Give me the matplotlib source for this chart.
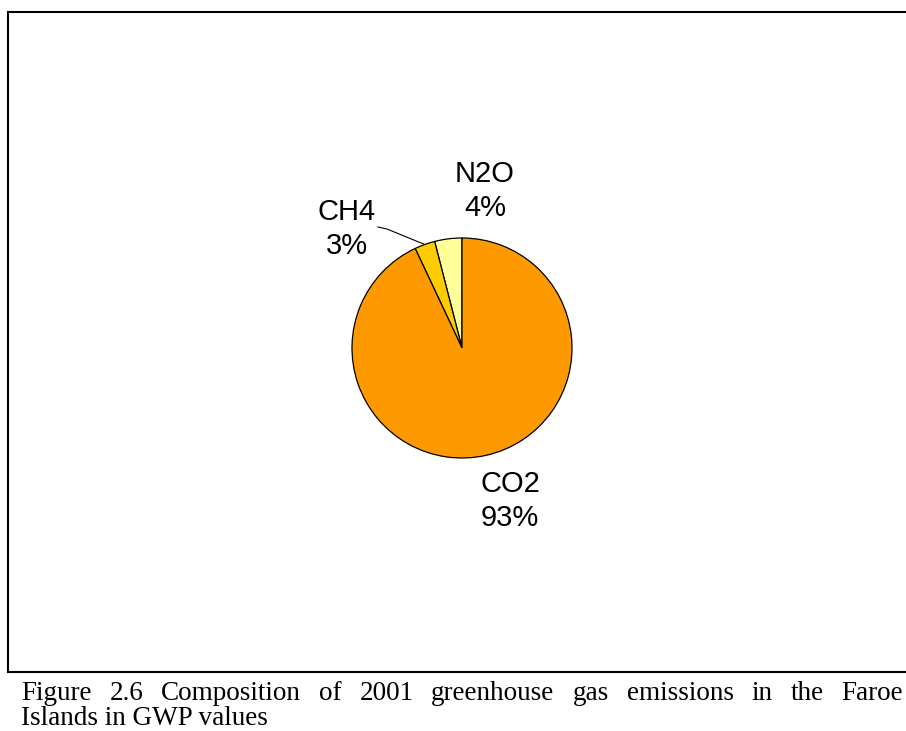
import matplotlib
matplotlib.use('Agg')
import matplotlib.pyplot as plt
from matplotlib.lines import Line2D
import numpy as np

# data (counterclockwise from 12 o'clock)
gases = ['N2O', 'CH4', 'CO2']
shares = [4, 3, 93]
colors = ['#FFFF99', '#FFCC00', '#FF9900']

caption_lines = ['Figure 2.6 Composition of 2001 greenhouse gas emissions in the Faroe',
                 'Islands in GWP values']

W, H = 906, 731
fig = plt.figure(figsize=(W / 100, H / 100), dpi=100)
ax = fig.add_axes([0, 0, 1, 1])

# pie, center/radius in pixel units
cx, cy, r = 462, H - 348, 110
wedges, _ = ax.pie(shares, colors=colors, startangle=90, counterclock=True,
                   center=(cx, cy), radius=r, frame=True,
                   wedgeprops=dict(edgecolor='black', linewidth=0.9))
ax.set_xlim(0, W)
ax.set_ylim(0, H)
ax.set_aspect('equal')
ax.axis('off')

lab_pos = {'N2O': (485, 191), 'CH4': (347, 229), 'CO2': (510, 501)}
for g, s in zip(gases, shares):
    x, y = lab_pos[g]
    ax.text(x, H - y, '%s\n%d%%' % (g, s), ha='center', va='center',
            fontsize=21, family='Liberation Sans', linespacing=1.3)

# leader line for CH4
ang = np.deg2rad(90 + (shares[0] + shares[1] / 2) * 3.6)
ex, ey = cx + r * np.cos(ang), cy + r * np.sin(ang)
ax.plot([378, 387, ex], [H - 227, H - 229, ey], color='black', lw=0.8)

# frame
lw = 1.5
fig.add_artist(Line2D([8 / W, 1], [1 - 12 / H, 1 - 12 / H], color='black', lw=lw))
fig.add_artist(Line2D([8 / W, 8 / W], [1 - 12 / H, 1 - 672 / H], color='black', lw=lw))
fig.add_artist(Line2D([8 / W, 1], [1 - 672 / H, 1 - 672 / H], color='black', lw=lw))

# caption, first line justified
fig.canvas.draw()
rend = fig.canvas.get_renderer()
fs = 19.5
x0, x1 = 21, 903
words = caption_lines[0].split(' ')
txts = [ax.text(0, H - 700, w, fontsize=fs, family='Liberation Serif', va='baseline')
        for w in words]
widths = [t.get_window_extent(rend).width for t in txts]
gap = (x1 - x0 - sum(widths)) / (len(words) - 1)
x = x0
for t, w in zip(txts, widths):
    t.set_x(x)
    x += w + gap
ax.text(x0, H - 725, caption_lines[1], fontsize=fs, family='Liberation Serif', va='baseline')

fig.savefig('out.png', dpi=100)
